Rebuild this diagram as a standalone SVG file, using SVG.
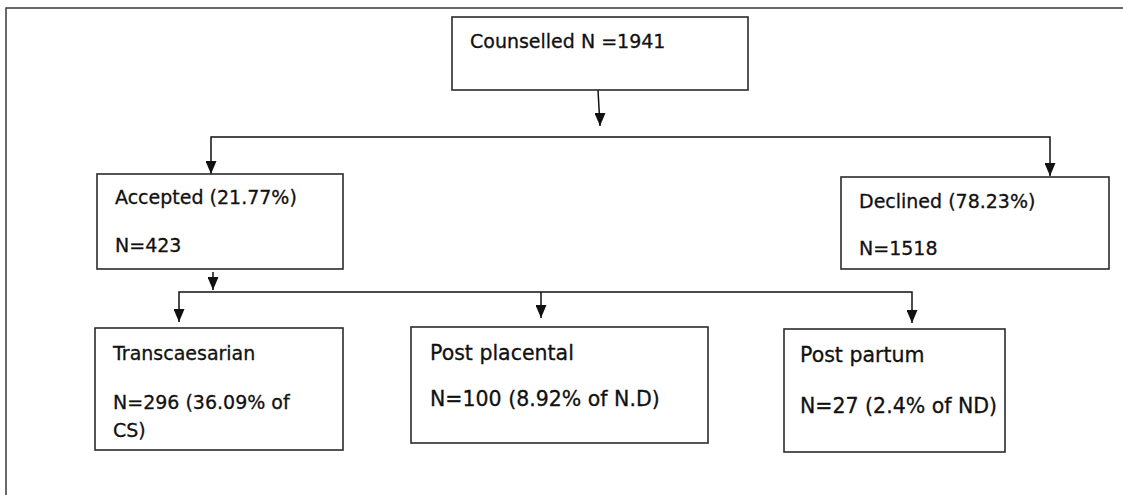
<svg xmlns="http://www.w3.org/2000/svg" width="1123" height="495" viewBox="0 0 1123 495">
  <style>
    .box { fill: #ffffff; stroke: #2b2b2b; stroke-width: 1.6; }
    .t { font-family: "DejaVu Sans", "Liberation Sans", sans-serif; font-size: 19px; fill: #111111; stroke: #111111; stroke-width: 0.3; }
    .tl { font-family: "DejaVu Sans", "Liberation Sans", sans-serif; font-size: 20.5px; fill: #111111; stroke: #111111; stroke-width: 0.3; }
    .ln { fill: none; stroke: #111111; stroke-width: 1.5; }
    .frame { fill: none; stroke: #3a3a3a; stroke-width: 1.5; }
  </style>
  <defs>
    <marker id="down" viewBox="0 0 11 13" refX="5.5" refY="13" markerWidth="11" markerHeight="13" markerUnits="userSpaceOnUse" orient="0">
      <path d="M0,0 L11,0 L5.5,13 Z" fill="#111111"/>
    </marker>
  </defs>

  <path class="frame" d="M6,495 L6,8 L1123,8"/>

  <g id="connectors">
    <line class="ln" x1="598" y1="90" x2="600" y2="126" marker-end="url(#down)"/>
    <polyline class="ln" points="211,174 211,137 1050,137 1050,176" marker-start="url(#down)" marker-end="url(#down)"/>
    <line class="ln" x1="213" y1="272" x2="213" y2="290" marker-end="url(#down)"/>
    <polyline class="ln" points="179,322 179,292 912,292 912,323" marker-start="url(#down)" marker-end="url(#down)"/>
    <line class="ln" x1="541" y1="292" x2="541" y2="318" marker-end="url(#down)"/>
  </g>

  <g id="counselled">
    <rect class="box" x="452" y="17" width="296" height="73"/>
    <text class="t" x="470" y="48">Counselled N =1941</text>
  </g>

  <g id="accepted">
    <rect class="box" x="97" y="174" width="246" height="95"/>
    <text class="t" x="115" y="204">Accepted (21.77%)</text>
    <text class="t" x="115" y="252">N=423</text>
  </g>

  <g id="declined">
    <rect class="box" x="841" y="177" width="268" height="92"/>
    <text class="t" x="859" y="208">Declined (78.23%)</text>
    <text class="t" x="859" y="255">N=1518</text>
  </g>

  <g id="transcaesarian">
    <rect class="box" x="95" y="328" width="248" height="122"/>
    <text class="t" x="113" y="360">Transcaesarian</text>
    <text class="t" x="113" y="409">N=296 (36.09% of</text>
    <text class="t" x="113" y="437">CS)</text>
  </g>

  <g id="postplacental">
    <rect class="box" x="411" y="327" width="297" height="116"/>
    <text class="tl" x="430" y="360">Post placental</text>
    <text class="tl" x="430" y="406">N=100 (8.92% of N.D)</text>
  </g>

  <g id="postpartum">
    <rect class="box" x="784" y="329" width="221" height="123"/>
    <text class="tl" x="800" y="362">Post partum</text>
    <text class="tl" x="800" y="413">N=27 (2.4% of ND)</text>
  </g>
</svg>
